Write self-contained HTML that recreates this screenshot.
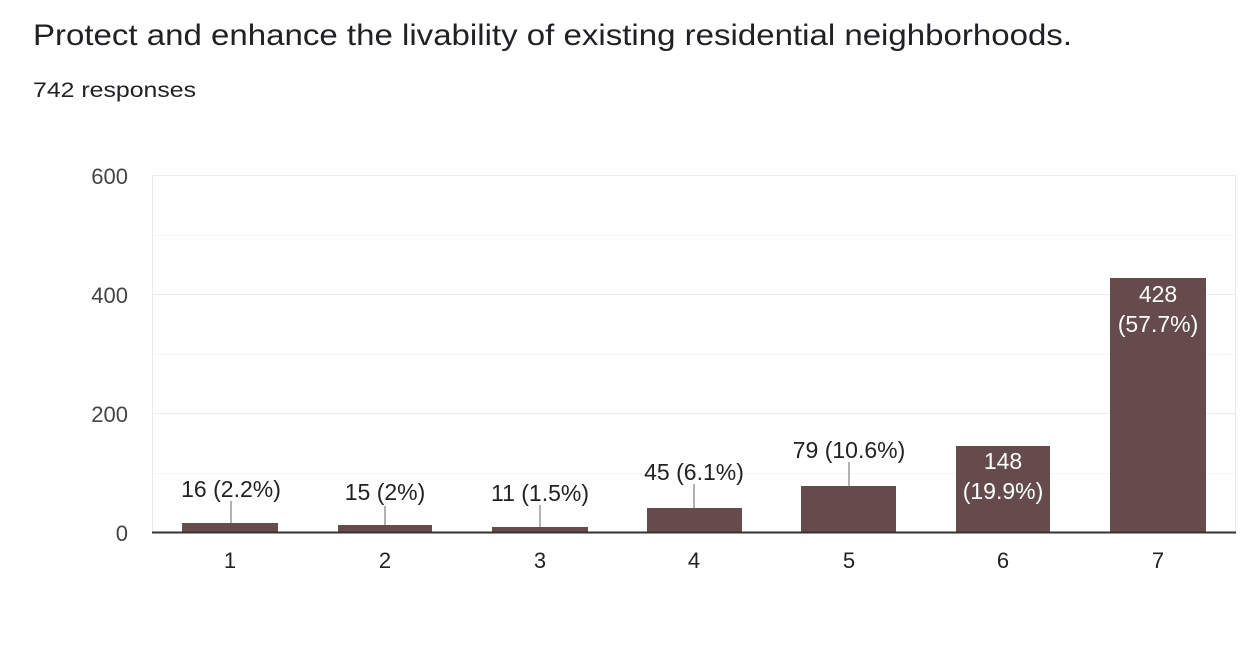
<!DOCTYPE html>
<html><head><style>
body{margin:0;background:#fff;width:1242px;height:640px;overflow:hidden;font-family:"Liberation Sans",Arial,sans-serif}
</style></head><body>
<svg width="1242" height="640" xmlns="http://www.w3.org/2000/svg" font-family="Liberation Sans, Arial, sans-serif">
<text x="33" y="45" font-size="30" fill="#202124" textLength="1039" lengthAdjust="spacingAndGlyphs">Protect and enhance the livability of existing residential neighborhoods.</text>
<text x="33" y="97" font-size="21" fill="#202124" textLength="163" lengthAdjust="spacingAndGlyphs">742 responses</text>
<g stroke="#ebebeb" stroke-width="1">
<line x1="152" y1="175.5" x2="1236" y2="175.5"/>
<line x1="152" y1="235.5" x2="1236" y2="235.5" stroke="#f5f5f5"/>
<line x1="152" y1="294.5" x2="1236" y2="294.5"/>
<line x1="152" y1="354.5" x2="1236" y2="354.5" stroke="#f5f5f5"/>
<line x1="152" y1="413.5" x2="1236" y2="413.5"/>
<line x1="152" y1="473.5" x2="1236" y2="473.5" stroke="#f5f5f5"/>
<line x1="152.5" y1="175" x2="152.5" y2="532"/>
<line x1="1235.5" y1="175" x2="1235.5" y2="532"/>
</g>
<g font-size="22" fill="#444" text-anchor="end">
<text x="128" y="184">600</text>
<text x="128" y="303">400</text>
<text x="128" y="422">200</text>
<text x="128" y="541">0</text>
</g>
<g fill="#654b4b">
<rect x="182" y="523" width="96" height="9"/>
<rect x="338" y="525" width="94" height="7"/>
<rect x="492" y="527" width="96" height="5"/>
<rect x="647" y="508" width="95" height="24"/>
<rect x="801" y="486" width="95" height="46"/>
<rect x="956" y="446" width="94" height="86"/>
<rect x="1110" y="278" width="96" height="254"/>
</g>
<line x1="152" y1="532.5" x2="1236" y2="532.5" stroke="#333" stroke-width="2"/>
<g stroke="#999" stroke-width="1.5">
<line x1="231" y1="501" x2="231" y2="523"/>
<line x1="385" y1="506" x2="385" y2="525"/>
<line x1="540" y1="505" x2="540" y2="527"/>
<line x1="694" y1="484" x2="694" y2="508"/>
<line x1="849" y1="462" x2="849" y2="486"/>
</g>
<g font-size="23" fill="#222" text-anchor="middle">
<text x="231" y="497">16 (2.2%)</text>
<text x="385" y="500">15 (2%)</text>
<text x="540" y="501">11 (1.5%)</text>
<text x="694" y="480">45 (6.1%)</text>
<text x="849" y="458">79 (10.6%)</text>
</g>
<g font-size="23" fill="#fff" text-anchor="middle">
<text x="1003" y="469">148</text>
<text x="1003" y="499">(19.9%)</text>
<text x="1158" y="302">428</text>
<text x="1158" y="332">(57.7%)</text>
</g>
<g font-size="22" fill="#222" text-anchor="middle">
<text x="230" y="568">1</text>
<text x="385" y="568">2</text>
<text x="540" y="568">3</text>
<text x="694" y="568">4</text>
<text x="849" y="568">5</text>
<text x="1003" y="568">6</text>
<text x="1158" y="568">7</text>
</g>
</svg>
</body></html>
